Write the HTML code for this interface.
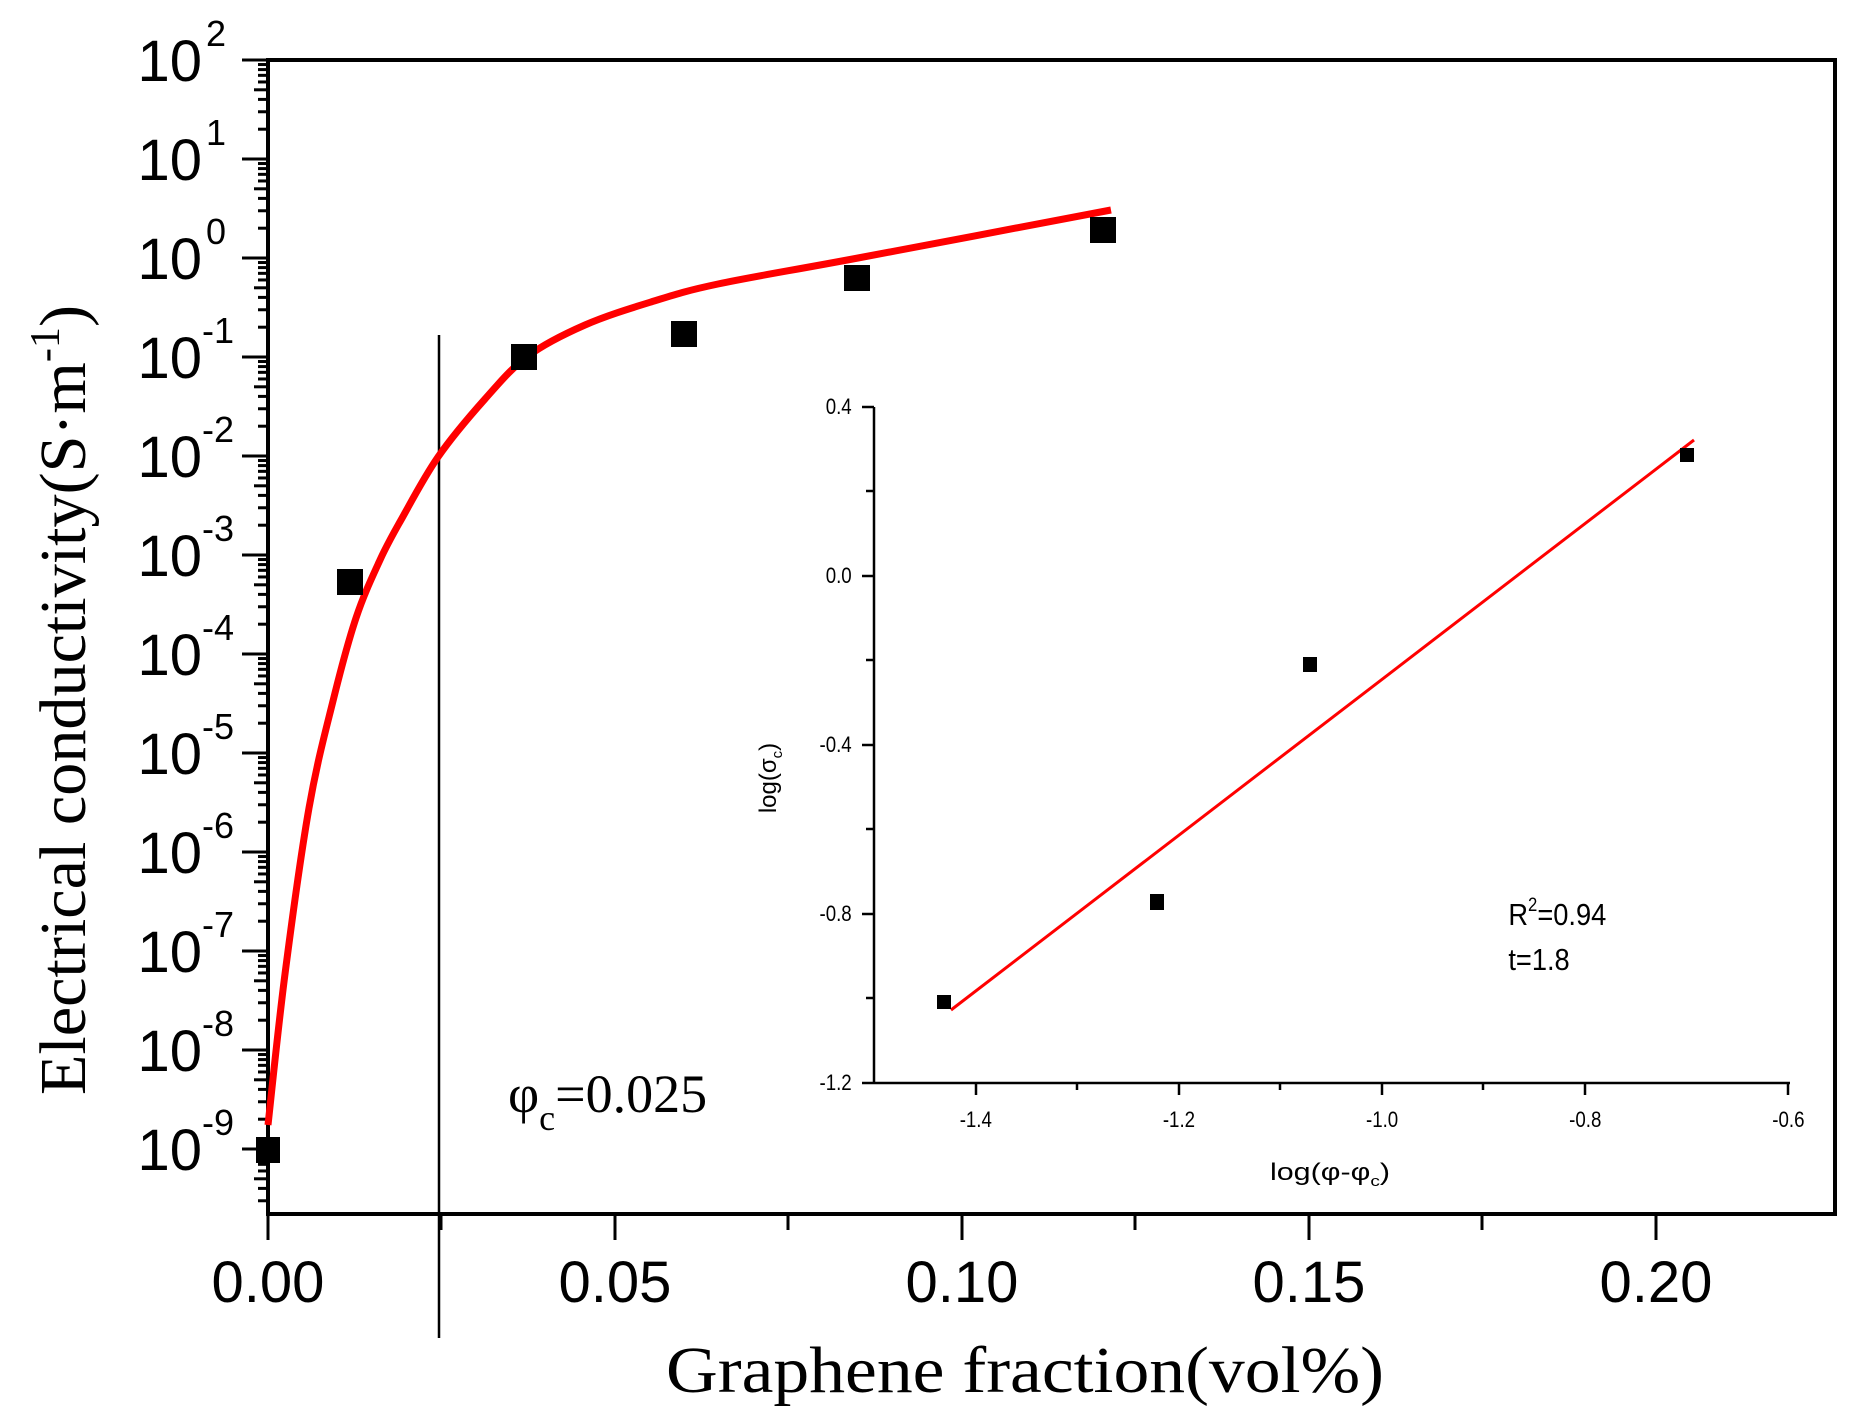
<!DOCTYPE html>
<html><head><meta charset="utf-8"><style>html,body{margin:0;padding:0;background:#fff}svg{display:block}</style></head><body>
<svg width="1862" height="1426" viewBox="0 0 1862 1426" xmlns="http://www.w3.org/2000/svg" font-family="Liberation Sans, sans-serif">
<rect width="1862" height="1426" fill="#fff"/>
<path d="M268 60 H1835 V1214 H268 Z" fill="none" stroke="#000" stroke-width="4"/>
<g stroke="#000" stroke-width="3" id="yt"></g>
<g stroke="#000" stroke-width="3">
<line x1="268" y1="1214" x2="268" y2="1240"/><line x1="615" y1="1214" x2="615" y2="1240"/><line x1="962" y1="1214" x2="962" y2="1240"/><line x1="1309" y1="1214" x2="1309" y2="1240"/><line x1="1656" y1="1214" x2="1656" y2="1240"/>
<line x1="441" y1="1214" x2="441" y2="1230"/><line x1="788" y1="1214" x2="788" y2="1230"/><line x1="1135" y1="1214" x2="1135" y2="1230"/><line x1="1482" y1="1214" x2="1482" y2="1230"/>
</g>
<g font-size="58" text-anchor="middle">
<text x="268" y="1302">0.00</text><text x="615" y="1302">0.05</text><text x="962" y="1302">0.10</text><text x="1309" y="1302">0.15</text><text x="1656" y="1302">0.20</text>
</g>
<text x="1025" y="1392" font-family="Liberation Serif, serif" font-size="66" text-anchor="middle" textLength="718" lengthAdjust="spacingAndGlyphs">Graphene fraction(vol%)</text>
<text transform="translate(85,700) rotate(-90)" font-family="Liberation Serif, serif" font-size="66" text-anchor="middle" textLength="790" lengthAdjust="spacingAndGlyphs">Electrical conductivity(S·m<tspan dy="-26" font-size="42">-1</tspan><tspan dy="26">)</tspan></text>
<g id="ylab" font-size="58"></g>
<line x1="439" y1="335" x2="439" y2="1338" stroke="#000" stroke-width="2.5"/>
<text x="508" y="1112" font-family="Liberation Serif, serif" font-size="54">φ<tspan font-size="36" dy="18">c</tspan><tspan dy="-18">=0.025</tspan></text>
<path id="curve" fill="none" stroke="#ff0000" stroke-width="7" stroke-linejoin="round" d="M268,1125 L285,974 L309,808 L333,701 L356,618 L401,520 L438,457 L485,399 L528,356 L585,325 L651,302 L718,284 L858,258 L1111,210"/>
<g fill="#000">
<rect x="256" y="1137" width="24" height="26"/>
<rect x="337" y="569" width="26" height="26"/>
<rect x="511" y="344" width="26" height="26"/>
<rect x="671" y="321" width="26" height="26"/>
<rect x="844" y="265" width="26" height="26"/>
<rect x="1090" y="217" width="26" height="26"/>
</g>
<g stroke="#000" stroke-width="2.5">
<line x1="874" y1="407" x2="874" y2="1083"/>
<line x1="874" y1="1083" x2="1790" y2="1083"/>
<line x1="862" y1="407" x2="874" y2="407"/><line x1="866" y1="491" x2="874" y2="491"/><line x1="862" y1="576" x2="874" y2="576"/><line x1="866" y1="660" x2="874" y2="660"/><line x1="862" y1="745" x2="874" y2="745"/><line x1="866" y1="829" x2="874" y2="829"/><line x1="862" y1="914" x2="874" y2="914"/><line x1="866" y1="998" x2="874" y2="998"/><line x1="862" y1="1083" x2="874" y2="1083"/>
<line x1="976" y1="1083" x2="976" y2="1095"/><line x1="1179" y1="1083" x2="1179" y2="1095"/><line x1="1382" y1="1083" x2="1382" y2="1095"/><line x1="1585" y1="1083" x2="1585" y2="1095"/><line x1="1788" y1="1083" x2="1788" y2="1095"/>
<line x1="1077" y1="1083" x2="1077" y2="1090"/><line x1="1280" y1="1083" x2="1280" y2="1090"/><line x1="1483" y1="1083" x2="1483" y2="1090"/>
</g>
<g font-size="22" text-anchor="end" transform="scale(0.85,1)">
<text x="1002" y="414">0.4</text><text x="1002" y="583">0.0</text><text x="1002" y="752">-0.4</text><text x="1002" y="921">-0.8</text><text x="1002" y="1090">-1.2</text>
</g>
<g font-size="22" text-anchor="middle" transform="scale(0.85,1)">
<text x="1148" y="1127">-1.4</text><text x="1387" y="1127">-1.2</text><text x="1626" y="1127">-1.0</text><text x="1865" y="1127">-0.8</text><text x="2104" y="1127">-0.6</text>
</g>
<text x="1330" y="1180" font-size="24" text-anchor="middle" textLength="120" lengthAdjust="spacingAndGlyphs">log(φ-φ<tspan font-size="15" dy="6">c</tspan><tspan dy="-6">)</tspan></text>
<text transform="translate(776,778) rotate(-90)" font-size="24" text-anchor="middle">log(σ<tspan font-size="15" dy="6">c</tspan><tspan dy="-6">)</tspan></text>
<line x1="951" y1="1010" x2="1694" y2="440" stroke="#ff0000" stroke-width="3"/>
<g fill="#000">
<rect x="937" y="995" width="14" height="14"/>
<rect x="1150" y="894" width="14" height="16"/>
<rect x="1303" y="657" width="14" height="15"/>
<rect x="1680" y="448" width="14" height="14"/>
</g>
<g transform="scale(0.88,1)">
<text x="1714" y="925" font-size="31">R<tspan font-size="19" dy="-14">2</tspan><tspan dy="14">=0.94</tspan></text>
<text x="1714" y="970" font-size="31">t=1.8</text>
</g>
</svg>
<script>
var g=document.getElementById('yt'),yl=document.getElementById('ylab'),ns='http://www.w3.org/2000/svg';
function L(x1,y1,x2,y2){var l=document.createElementNS(ns,'line');l.setAttribute('x1',x1);l.setAttribute('y1',y1);l.setAttribute('x2',x2);l.setAttribute('y2',y2);g.appendChild(l);}
for(var k=2;k>=-9;k--){var y=60+(2-k)*99;L(242,y,268,y);
 var t=document.createElementNS(ns,'text');t.setAttribute('x',202);t.setAttribute('y',y+21);t.setAttribute('text-anchor','end');t.textContent='10';yl.appendChild(t);
 var s=document.createElementNS(ns,'text');s.setAttribute('x',k<0?202:206);s.setAttribute('y',y-14);s.setAttribute('font-size','36');s.textContent=(k<0?'-':'')+Math.abs(k);yl.appendChild(s);
 for(var m=2;m<=9;m++){var yy=y+99-Math.log10(m)*99;if(yy<1214)L(m==5?254:258,yy,268,yy);}}
var P=[[268,1125],[285,974],[309,808],[333,701],[356,618],[380,560],[401,520],[438,457],[485,399],[528,356],[585,325],[651,302],[718,284],[858,258],[1111,210]];
var d='M'+P[0][0]+','+P[0][1];
for(var i=0;i<P.length-1;i++){var p0=P[i-1]||P[i],p1=P[i],p2=P[i+1],p3=P[i+2]||p2;
 d+=' C'+(p1[0]+(p2[0]-p0[0])/6)+','+(p1[1]+(p2[1]-p0[1])/6)+' '+(p2[0]-(p3[0]-p1[0])/6)+','+(p2[1]-(p3[1]-p1[1])/6)+' '+p2[0]+','+p2[1];}
document.getElementById('curve').setAttribute('d',d);
</script>
</body></html>
